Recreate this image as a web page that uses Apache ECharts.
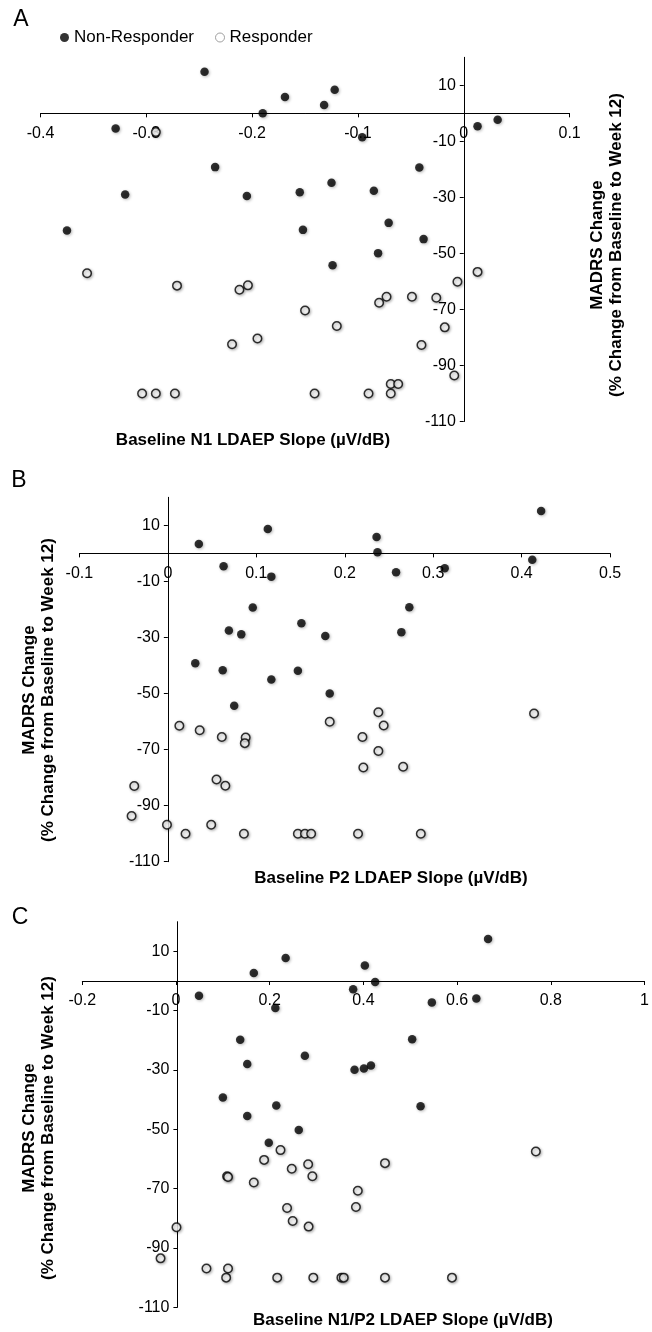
<!DOCTYPE html>
<html>
<head>
<meta charset="utf-8">
<script src="https://cdn.jsdelivr.net/npm/echarts@6/dist/echarts.min.js"></script>
<style>html,body{margin:0;padding:0;background:#fff}#c{width:652px;height:1332px}</style>
</head>
<body>
<div id="c"></div>
<script>
// ---- data ----
const yTicks = [-110, -90, -70, -50, -30, -10, 10];
const xTicksA = [-0.4, -0.3, -0.2, -0.1, 0, 0.1];
const xTicksB = [-0.1, 0, 0.1, 0.2, 0.3, 0.4, 0.5];
const xTicksC = [-0.2, 0, 0.2, 0.4, 0.6, 0.8, 1];

const aNon = [[-0.245,14.8],[-0.122,8.4],[-0.169,5.8],[-0.132,3.0],[-0.190,0],[-0.329,-5.4],[-0.096,-8.5],[0.013,-4.6],[0.032,-2.3],[-0.235,-19.2],[-0.042,-19.3],[-0.125,-24.8],[-0.155,-28.2],[-0.085,-27.6],[-0.320,-29.0],[-0.205,-29.5],[-0.071,-39.1],[-0.375,-41.8],[-0.152,-41.6],[-0.038,-44.9],[-0.081,-49.9],[-0.124,-54.2]];
const aResp = [[-0.291,-6.7],[-0.356,-57.1],[-0.271,-61.5],[-0.212,-63.0],[-0.204,-61.4],[0.013,-56.6],[-0.006,-60.1],[-0.150,-70.4],[-0.080,-67.6],[-0.073,-65.5],[-0.049,-65.5],[-0.026,-65.8],[-0.120,-75.9],[-0.018,-76.4],[-0.219,-82.4],[-0.195,-80.4],[-0.040,-82.7],[-0.009,-93.6],[-0.069,-96.6],[-0.062,-96.6],[-0.304,-100],[-0.291,-100],[-0.273,-100],[-0.141,-100],[-0.090,-100],[-0.069,-100]];

const bNon = [[0.422,15.1],[0.113,8.7],[0.236,5.8],[0.035,3.3],[0.237,0.4],[0.412,-2.3],[0.063,-4.6],[0.313,-5.3],[0.258,-6.7],[0.117,-8.3],[0.096,-19.3],[0.273,-19.2],[0.151,-24.9],[0.069,-27.5],[0.264,-28.1],[0.083,-28.9],[0.178,-29.5],[0.031,-39.2],[0.062,-41.7],[0.147,-41.9],[0.117,-45.0],[0.183,-50.0],[0.075,-54.4]];
const bResp = [[0.414,-57.1],[0.238,-56.7],[0.244,-61.4],[0.183,-60.1],[0.013,-61.5],[0.036,-63.1],[0.061,-65.5],[0.088,-65.7],[0.087,-67.7],[0.220,-65.5],[0.238,-70.5],[0.221,-76.4],[0.266,-76.1],[-0.038,-83.0],[0.055,-80.7],[0.065,-82.9],[-0.041,-93.7],[-0.001,-96.8],[0.049,-96.8],[0.020,-100],[0.086,-100],[0.147,-100],[0.155,-100],[0.162,-100],[0.215,-100],[0.286,-100]];

const cNon = [[0.666,14.2],[0.234,7.8],[0.403,5.2],[0.166,2.7],[0.425,-0.3],[0.378,-2.8],[0.049,-5.0],[0.641,-5.9],[0.546,-7.2],[0.212,-9.1],[0.137,-19.8],[0.504,-19.6],[0.275,-25.2],[0.152,-28.0],[0.381,-29.9],[0.401,-29.5],[0.416,-28.5],[0.100,-39.3],[0.214,-42.0],[0.522,-42.2],[0.152,-45.5],[0.262,-50.2],[0.198,-54.5]];
const cResp = [[0.768,-57.5],[0.223,-57.0],[0.188,-60.3],[0.446,-61.4],[0.282,-61.8],[0.247,-63.3],[0.109,-65.8],[0.111,-66.1],[0.291,-65.8],[0.166,-67.9],[0.388,-70.7],[0.237,-76.5],[0.384,-76.2],[0.249,-80.9],[0.283,-82.8],[0.001,-83.0],[-0.033,-93.5],[0.065,-96.9],[0.111,-96.9],[0.107,-100],[0.216,-100],[0.293,-100],[0.353,-100],[0.358,-100],[0.446,-100],[0.589,-100]];

const xNames = ['Baseline N1 LDAEP Slope (\u00b5V/dB)', 'Baseline P2 LDAEP Slope (\u00b5V/dB)', 'Baseline N1/P2 LDAEP Slope (\u00b5V/dB)'];
const yName = 'MADRS Change\n(% Change from Baseline to Week 12)';
const panelLetters = ['A', 'B', 'C'];

// ---- chart ----
const font = '"Liberation Sans", Arial, Helvetica, sans-serif';
const W = 652;
const chart = echarts.init(document.getElementById('c'), null, {renderer: 'canvas'});

const yMin = -110, yMax = 20;
const grids = [
  {left: 40.5, right: 82.4, top: 57.3, height: 364.2, xmin: -0.4, xmax: 0.1, ticks: xTicksA},
  {left: 79.4, right: 41.9, top: 497.3, height: 364.4, xmin: -0.1, xmax: 0.5, ticks: xTicksB},
  {left: 82.3, right: -1, top: 921.7, height: 385.6, xmin: -0.2, xmax: 1, ticks: xTicksC}
];

function xAxis(idx) {
  const g = grids[idx];
  // place the axis where y = 0 (cross at origin)
  const off = -g.height * (0 - yMin) / (yMax - yMin);
  return {
    type: 'value', gridIndex: idx, min: g.xmin, max: g.xmax, position: 'bottom', offset: off,
    axisLine: {onZero: false, lineStyle: {color: '#000', width: 1}},
    axisTick: {show: true, length: 4, customValues: g.ticks, lineStyle: {color: '#000'}},
    axisLabel: {customValues: g.ticks, margin: 12, color: '#000', fontSize: 16, fontFamily: font},
    splitLine: {show: false}
  };
}
function yAxis(idx) {
  const g = grids[idx];
  const w = W - g.left - g.right;
  const off = -w * (0 - g.xmin) / (g.xmax - g.xmin);
  return {
    type: 'value', gridIndex: idx, min: yMin, max: yMax, position: 'left', offset: off,
    axisLine: {onZero: false, lineStyle: {color: '#000', width: 1}},
    axisTick: {show: true, length: 4, customValues: yTicks, lineStyle: {color: '#000'}},
    axisLabel: {customValues: yTicks, margin: 8, color: '#000', fontSize: 16, fontFamily: font},
    splitLine: {show: false}
  };
}
const shadow = {shadowBlur: 3, shadowColor: 'rgba(0,0,0,0.35)', shadowOffsetX: 1, shadowOffsetY: 1};
function nonSeries(idx, data) {
  return {type: 'scatter', name: 'Non-Responder', xAxisIndex: idx, yAxisIndex: idx, data: data,
    symbol: 'circle', symbolSize: 8.5, z: 3,
    itemStyle: Object.assign({color: '#000'}, shadow)};
}
function respSeries(idx, data) {
  return {type: 'scatter', name: 'Responder', xAxisIndex: idx, yAxisIndex: idx, data: data,
    symbol: 'circle', symbolSize: 8.5, z: 2,
    itemStyle: Object.assign({color: '#fff', borderColor: '#000', borderWidth: 1.5}, shadow)};
}
function txt(x, y, text, size, weight, rot) {
  return {type: 'text', x: x, y: y, rotation: rot || 0, z: 10,
    style: {text: text, fill: '#000', font: (weight || 'normal') + ' ' + size + 'px ' + font,
      textAlign: 'center', textVerticalAlign: 'middle', lineHeight: 19}};
}

chart.setOption({
  animation: false,
  backgroundColor: '#fff',
  legend: {
    left: 60, top: 29, padding: 0, itemWidth: 9, itemHeight: 9, itemGap: 21,
    textStyle: {fontSize: 17, color: '#000', fontFamily: font},
    data: [
      {name: 'Non-Responder', icon: 'circle', itemStyle: {color: '#000', borderWidth: 0, shadowBlur: 0}},
      {name: 'Responder', icon: 'circle', itemStyle: {color: '#fff', borderColor: '#888', borderWidth: 1, shadowBlur: 0}}
    ]
  },
  grid: grids.map(g => ({left: g.left, right: g.right, top: g.top, height: g.height})),
  xAxis: [xAxis(0), xAxis(1), xAxis(2)],
  yAxis: [yAxis(0), yAxis(1), yAxis(2)],
  series: [
    respSeries(0, aResp), nonSeries(0, aNon),
    respSeries(1, bResp), nonSeries(1, bNon),
    respSeries(2, cResp), nonSeries(2, cNon)
  ],
  graphic: [
    txt(21, 20, panelLetters[0], 23),
    txt(19, 481, panelLetters[1], 23),
    txt(20, 918, panelLetters[2], 23),
    txt(253, 440, xNames[0], 17, 'bold'),
    txt(391, 878, xNames[1], 17, 'bold'),
    txt(403, 1320, xNames[2], 17, 'bold'),
    txt(607, 245, yName, 17, 'bold', Math.PI / 2),
    txt(39, 690, yName, 17, 'bold', Math.PI / 2),
    txt(39, 1128, yName, 17, 'bold', Math.PI / 2)
  ]
});
</script>
</body>
</html>
